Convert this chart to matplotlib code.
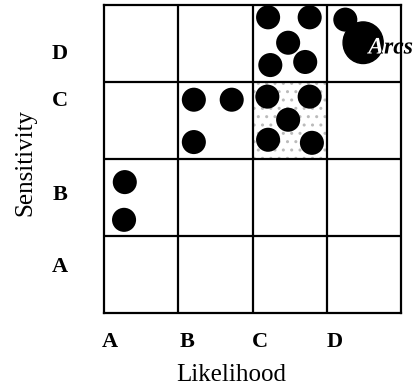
import matplotlib
matplotlib.use("Agg")
import matplotlib.pyplot as plt
from matplotlib.patches import Rectangle, Circle, PathPatch
from matplotlib.textpath import TextPath
from matplotlib.font_manager import FontProperties
from matplotlib.transforms import Affine2D, ScaledTranslation

# risk matrix: likelihood (x) vs sensitivity (y)
levels = ["A", "B", "C", "D"]
x_label_pos = [0.08, 1.12, 2.1, 3.11]
y_label_pos = [0.63, 1.57, 2.78, 3.39]

# item positions (grid units)
dots_x = [0.28, 0.27,
          1.21, 1.72, 1.21,
          2.21, 2.77, 2.48, 2.24, 2.71,
          2.20, 2.77, 2.48, 2.21, 2.80,
          3.25]
dots_y = [1.70, 1.21,
          2.77, 2.77, 2.22,
          3.84, 3.84, 3.51, 3.22, 3.26,
          2.81, 2.81, 2.51, 2.25, 2.21,
          3.81]
big_x, big_y = 3.49, 3.51
big_label = "Arcs"

plt.rcParams['font.family'] = ['Liberation Serif', 'DejaVu Serif']

fig = plt.figure(figsize=(4.17, 3.89), dpi=100)
ax = fig.add_axes([104 / 417, 1 - 313 / 389, 297 / 417, 308 / 389])
ax.set_xlim(0, 4)
ax.set_ylim(0, 4)

# stippled cell (C, C)
ax.add_patch(Rectangle((2, 2), 1, 1, facecolor="white", edgecolor="#bbbbbb",
                       hatch="..", linewidth=0, zorder=0))

for v in [1, 2, 3]:
    ax.axvline(v, color="black", lw=1.6, zorder=1)
    ax.axhline(v, color="black", lw=1.6, zorder=1)
for s in ax.spines.values():
    s.set_linewidth(1.6)

ax.scatter(dots_x, dots_y, s=300, color="black", edgecolors="none",
           zorder=3, clip_on=False)

# big item with its label (white over the disc, black outside it)
big = Circle((big_x, big_y), 0.27, transform=ax.transData, color="black", zorder=3)
ax.add_patch(big)

fp = FontProperties(family="Liberation Serif", style="italic", weight="bold")
tp = TextPath((0, 0), big_label, size=17, prop=fp)
tr = (Affine2D().scale(1 / 72) + fig.dpi_scale_trans
      + ScaledTranslation(big_x + 0.07, big_y - 0.14, ax.transData))
lab_black = PathPatch(tp, transform=tr, color="black", lw=0, zorder=4, clip_on=False)
lab_white = PathPatch(tp, transform=tr, color="white", lw=0, zorder=5)
ax.add_artist(lab_black)
ax.add_artist(lab_white)
lab_white.set_clip_path(big)

ax.set_xticks(x_label_pos)
ax.set_xticklabels(levels, fontsize=16, fontweight="bold")
ax.set_yticks(y_label_pos)
ax.set_yticklabels(levels, fontsize=16, fontweight="bold")
ax.tick_params(length=0)
ax.tick_params(axis="x", pad=14)
ax.tick_params(axis="y", pad=26)

fig.text(231 / 417, 1 - 375 / 389, "Likelihood", fontsize=18,
         ha="center", va="center")
fig.text(25 / 417, 1 - 162 / 389, "Sensitivity", fontsize=18,
         ha="center", va="center", rotation=90)

fig.savefig("out.png", dpi=100)
